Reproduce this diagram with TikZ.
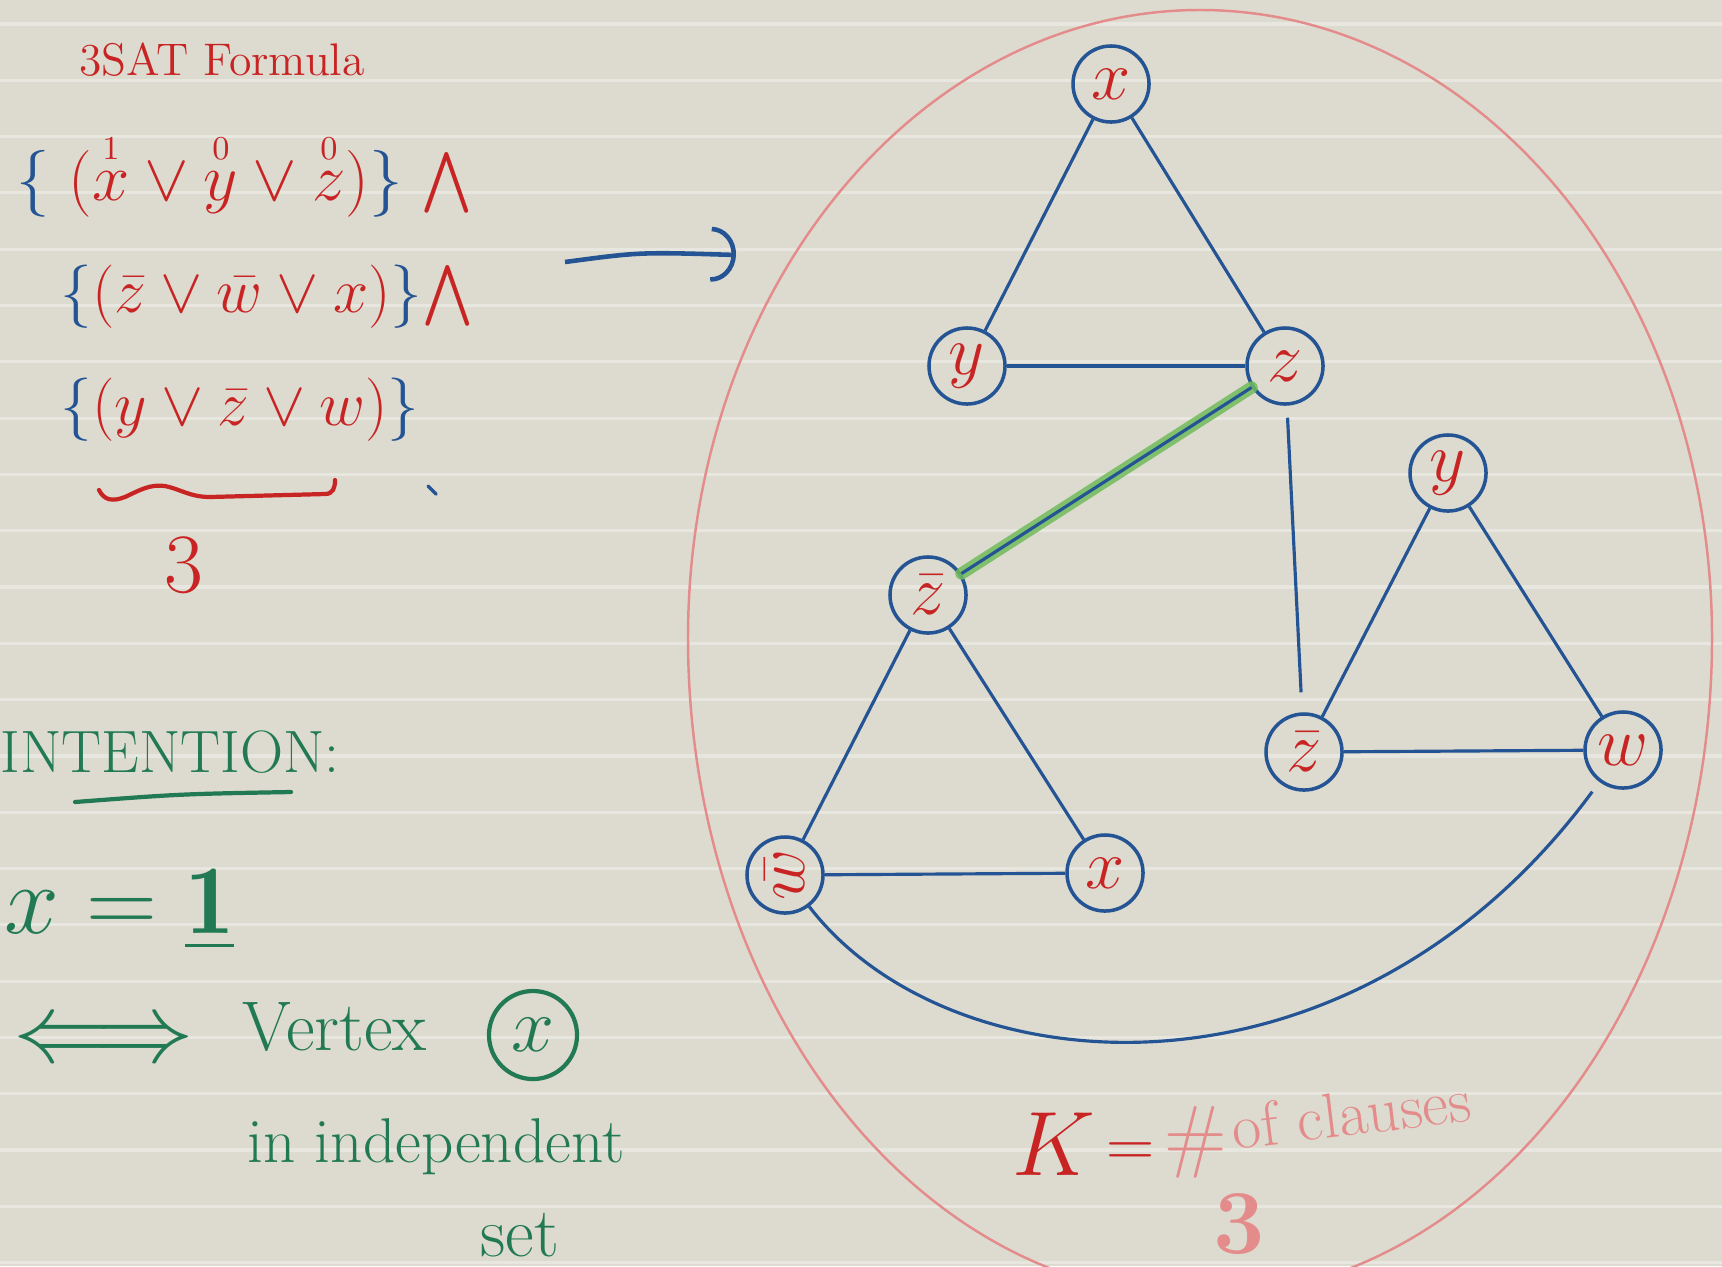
\documentclass[tikz,border=0pt]{standalone}
\usepackage{fix-cm}
\usepackage{amsmath}
\usepackage{fontspec}
\usetikzlibrary{arrows.meta}

\definecolor{paper}{RGB}{221,219,207}
\definecolor{ruling}{RGB}{232,231,223}
\definecolor{penred}{RGB}{200,36,36}
\definecolor{penblue}{RGB}{36,84,148}
\definecolor{pengreen}{RGB}{34,122,84}
\definecolor{penpink}{RGB}{228,140,140}
\definecolor{marker}{RGB}{112,188,92}

\begin{document}
\begin{tikzpicture}[x=0.01cm, y=-0.01cm,
    vertex/.style={circle, draw=penblue, line width=1pt, minimum size=0.76cm, inner sep=0pt, text=penred, font=\fontsize{20}{20}\selectfont},
    link/.style={penblue, line width=0.9pt},
    txt/.style={inner sep=0pt, anchor=base west}]

        % Paper with ruled lines
        \useasboundingbox (0,0) rectangle (1722,1266);
        \fill[paper] (0,0) rectangle (1722,1266);
        \clip (0,0) rectangle (1722,1266);
        \foreach \k in {0,...,22}
            \draw[ruling, line width=0.9pt] (0,{24+56.3*\k}) -- (1722,{24+56.3*\k});

        % The 3SAT formula, one clause per line
        \node[text=penred, inner sep=0pt, font=\fontsize{13}{15}\selectfont] (title) at (222,60) {3SAT Formula};
        \node[txt, font=\fontsize{19}{23}\selectfont] (cl1) at (16,200) {$\color{penblue}\{\;\color{penred}(\overset{\scriptscriptstyle 1}{x}\vee\overset{\scriptscriptstyle 0}{y}\vee\overset{\scriptscriptstyle 0}{z})\color{penblue}\}\;\color{penred}{\textstyle\bigwedge}$};
        \node[txt, font=\fontsize{18}{22}\selectfont] (cl2) at (60,312) {$\color{penblue}\{\color{penred}(\bar{z}\vee\bar{w}\vee x)\color{penblue}\}\color{penred}{\textstyle\bigwedge}$};
        \node[txt, font=\fontsize{18}{22}\selectfont] (cl3) at (60,425) {$\color{penblue}\{\color{penred}(y\vee\bar{z}\vee w)\color{penblue}\}$};

        % brace under the clause and its count
        \draw[penred, line width=1.2pt, line cap=round] (99,490) .. controls (104,500) and (112,502) .. (125,497) .. controls (140,490) and (150,484) .. (165,486) .. controls (180,489) and (190,497) .. (210,497) -- (325,494) .. controls (333,494) and (335,488) .. (335,480);
        \node[text=penred, font=\fontsize{24}{28}\selectfont] (three) at (184,565) {3};
        \draw[penblue, line width=1pt, line cap=round] (428,486) -- (436,494);

        % Arrow towards the graph
        \coordinate (arrS) at (565,262);
        \coordinate (arrE) at (736,255);
        \draw[penblue, line width=1.3pt, -{Arc Barb[length=2.5mm, width=5.5mm]}] (arrS) .. controls (640,252) .. (arrE);

        % Intention
        \node[inner sep=0pt, anchor=west, text=pengreen, font=\fontsize{17}{20}\selectfont] (intent) at (0,752) {INTENTION:};
        \draw[pengreen, line width=1.2pt, line cap=round] (75,802) .. controls (180,794) .. (291,792);
        \node[txt, text=pengreen, font=\fontsize{28}{32}\selectfont] (xeq) at (4,933) {$x=\underline{\mathbf{1}}$};
        \node[text=pengreen, font=\fontsize{28}{30}\selectfont] (iff) at (104,1043) {$\Longleftrightarrow$};
        \node[txt, text=pengreen, font=\fontsize{20}{24}\selectfont] (vtxt) at (242,1050) {Vertex};
        \node[circle, draw=pengreen, line width=1.2pt, minimum size=0.88cm, inner sep=0pt, text=pengreen, font=\fontsize{22}{22}\selectfont] (vx) at (533,1035) {$x$};
        \node[txt, text=pengreen, font=\fontsize{18}{22}\selectfont] (indep) at (247,1162) {in independent};
        \node[txt, text=pengreen, font=\fontsize{20}{24}\selectfont] (set) at (480,1256) {set};

        % K = # of clauses
        \node[txt, text=penred, font=\fontsize{26}{30}\selectfont] (kk) at (1012,1175) {$K$};
        \node[text=penred, font=\fontsize{19}{22}\selectfont] (keq) at (1131,1155) {$=$};
        \node[text=penpink, font=\fontsize{23}{26}\selectfont] (hash) at (1196,1142) {\#};
        \node[txt, text=penpink, rotate=7, font=\fontsize{18}{22}\selectfont] (ofcl) at (1234,1150) {of clauses};
        \node[text=penpink, font=\fontsize{26}{30}\selectfont\bfseries] (kval) at (1239,1224) {3};

        % The red boundary round the graph
        \draw[penpink, line width=0.7pt] (688,638) arc[start angle=180, end angle=360, x radius=512, y radius=628] arc[start angle=0, end angle=180, x radius=512, y radius=659];

        % One triangle per clause
        \node[vertex] (xt) at (1111,84) {$x$};
        \node[vertex] (yt) at (967,366) {$y$};
        \node[vertex] (zt) at (1285,366) {$z$};
        \node[vertex] (zbl) at (928,595) {$\bar{z}$};
        \node[vertex] (wbl) at (785,875) {\rotatebox{90}{$\bar{w}$}};
        \node[vertex] (xl) at (1105,873) {$x$};
        \node[vertex] (yr) at (1448,473) {$y$};
        \node[vertex] (zbr) at (1304,752) {$\bar{z}$};
        \node[vertex] (wr) at (1623,750) {$w$};

        % highlighted edge z -- not z
        \draw[marker, line width=3.5pt, opacity=0.85, line cap=round] (zbl) -- (zt);

        % edges
        \draw[link] (xt) -- (yt);
        \draw[link] (xt) -- (zt);
        \draw[link] (yt) -- (zt);
        \draw[link] (zbl) -- (zt);
        \draw[link, shorten <=0.12cm, shorten >=0.2cm] (zt) -- (zbr);
        \draw[link] (zbl) -- (wbl);
        \draw[link] (zbl) -- (xl);
        \draw[link] (wbl) -- (xl);
        \draw[link] (yr) -- (zbr);
        \draw[link] (yr) -- (wr);
        \draw[link] (zbr) -- (wr);
        \draw[link, shorten >=0.12cm] (wbl) .. controls (950,1090) and (1350,1120) .. (wr);
\end{tikzpicture}
\end{document}
